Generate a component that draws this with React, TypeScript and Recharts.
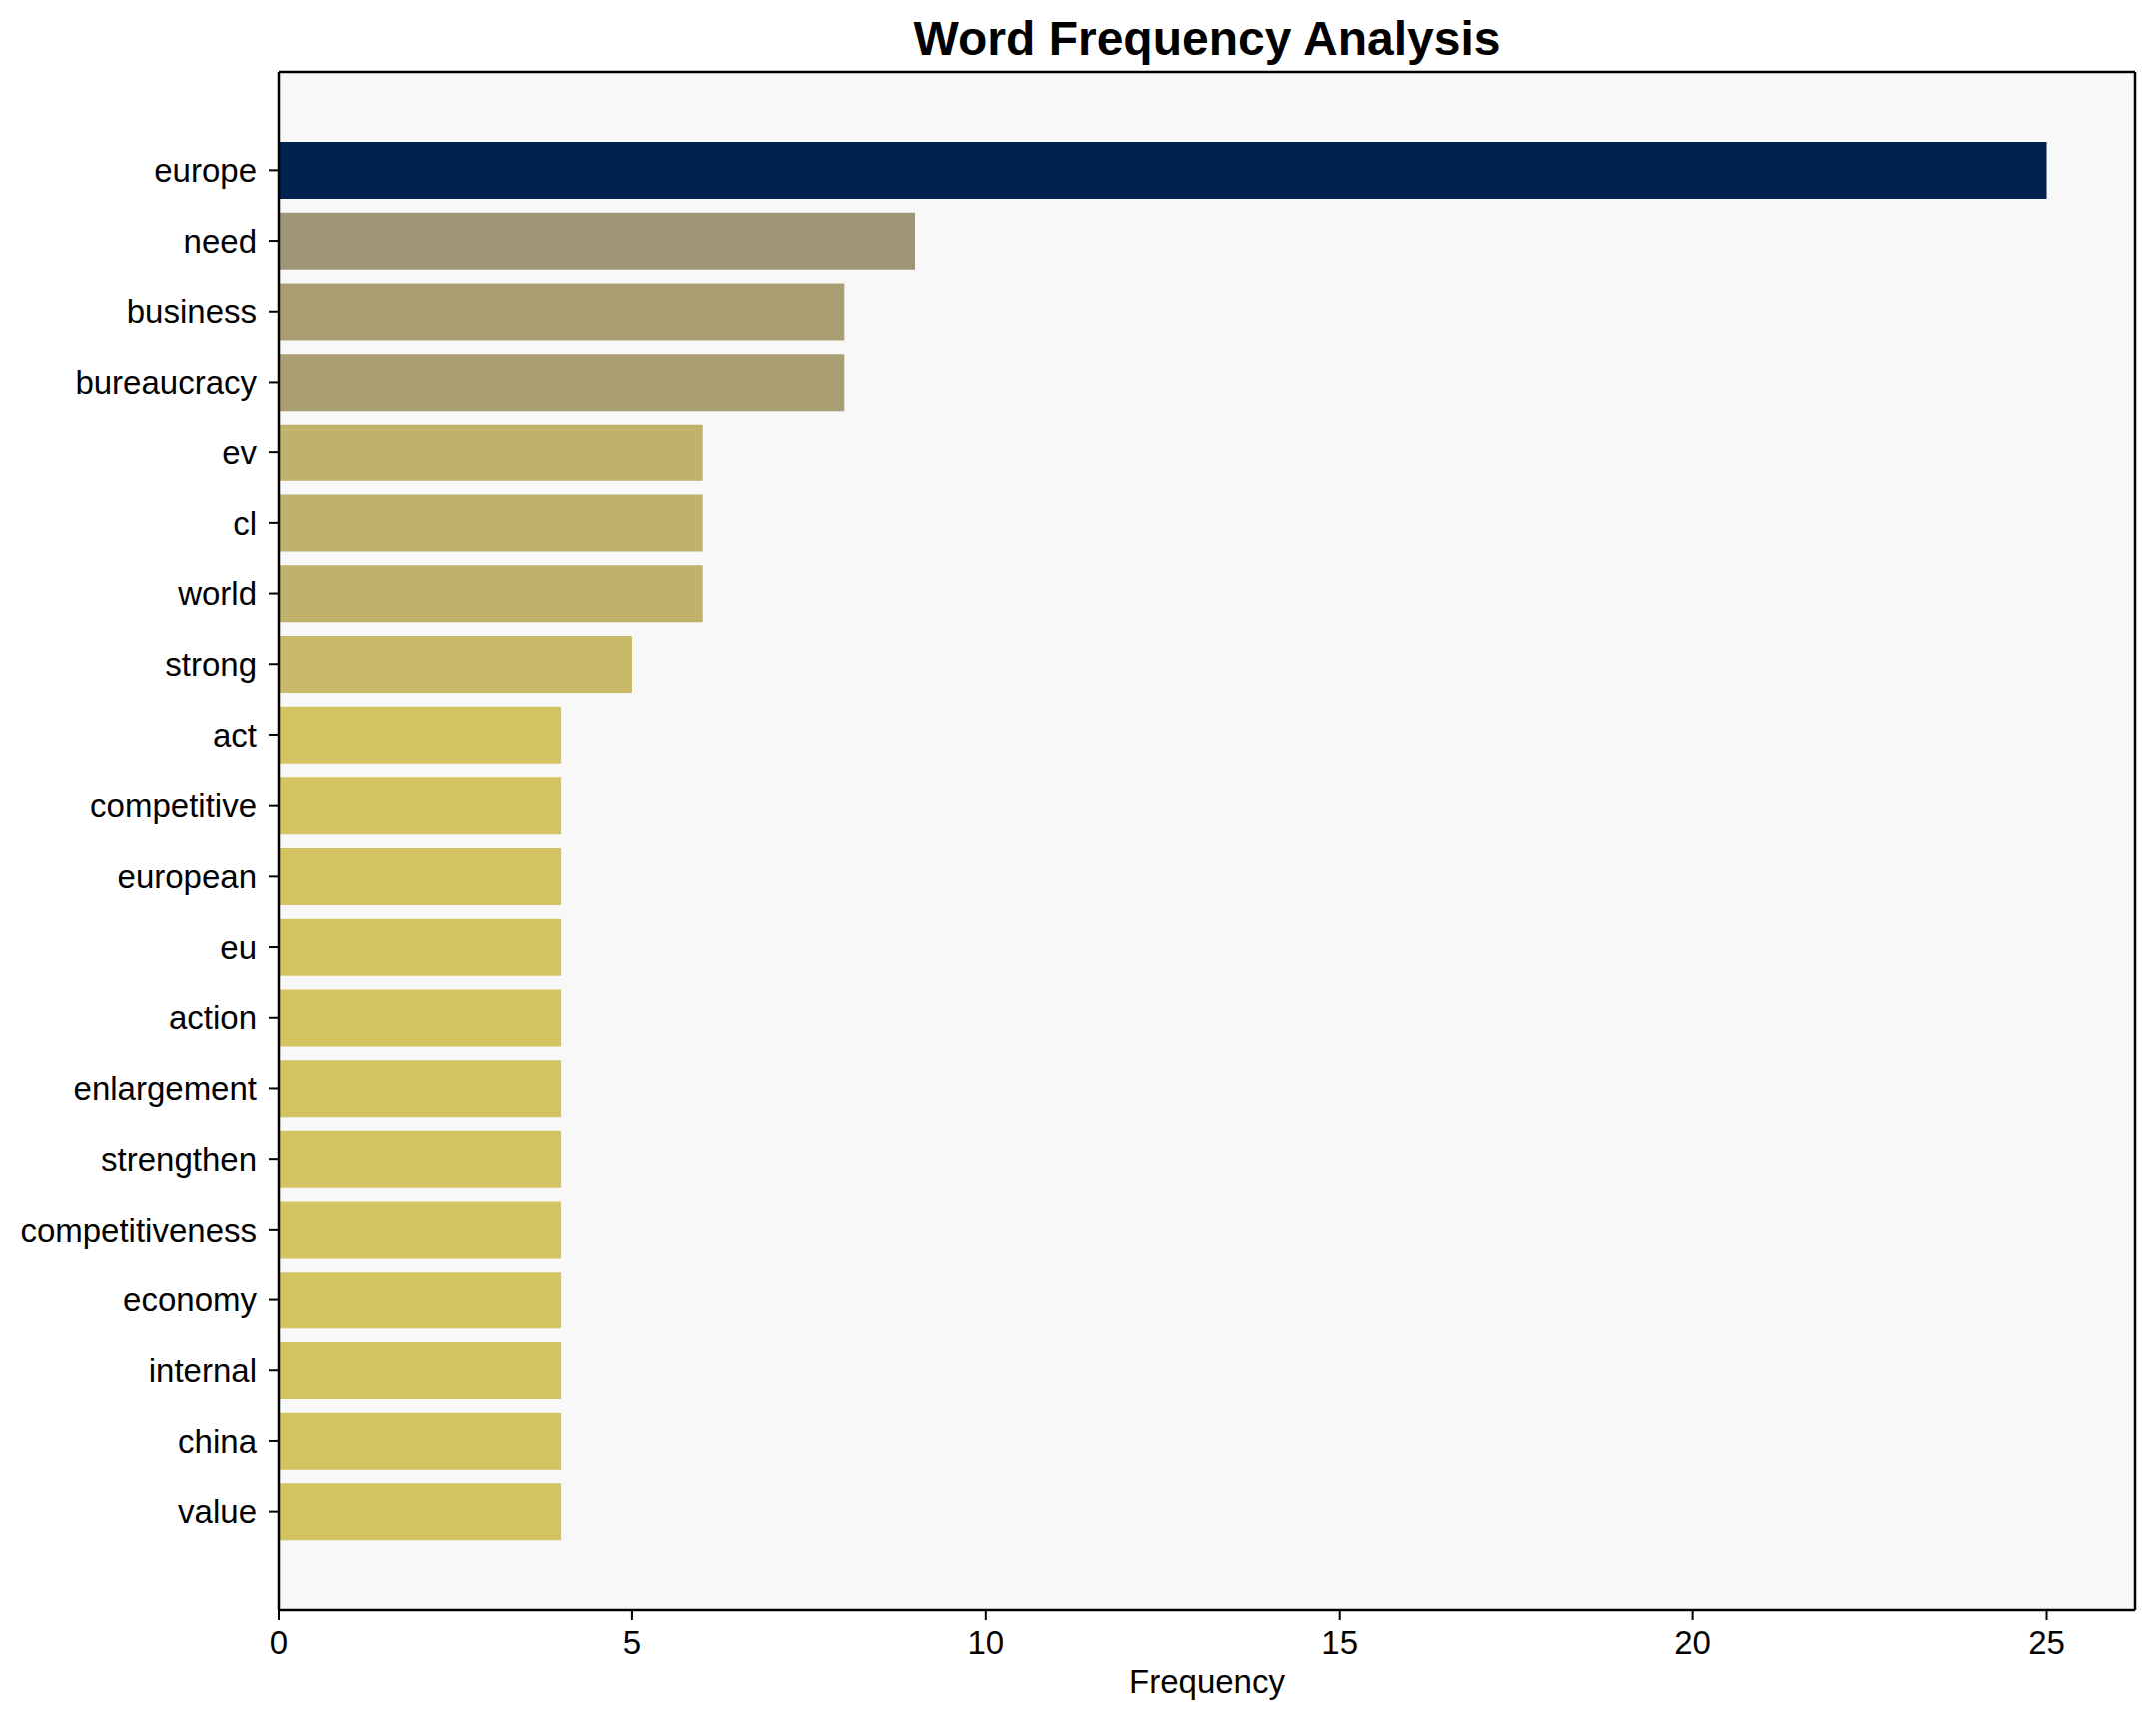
import { Bar, BarChart, CartesianGrid, Cell, XAxis, YAxis } from "recharts";

const words = [
  "europe",
  "need",
  "business",
  "bureaucracy",
  "ev",
  "cl",
  "world",
  "strong",
  "act",
  "competitive",
  "european",
  "eu",
  "action",
  "enlargement",
  "strengthen",
  "competitiveness",
  "economy",
  "internal",
  "china",
  "value",
];

const frequencies = [25, 9, 8, 8, 6, 6, 6, 5, 4, 4, 4, 4, 4, 4, 4, 4, 4, 4, 4, 4];

const xTicks = [0, 5, 10, 15, 20, 25];

// colour by frequency (reversed cividis-like ramp)
const palette: Record<number, string> = {
  25: "#00224e",
  9: "#9f9676",
  8: "#aa9f72",
  6: "#c0b16b",
  5: "#c8b968",
  4: "#d4c361",
};

const FONT = '"Liberation Sans", Arial, Helvetica, sans-serif';

export default function App() {
  const rows = words.map((w, i) => ({ word: w, value: frequencies[i] }));

  return (
    <div
      style={{
        position: "absolute",
        left: 0,
        top: 0,
        width: 2158,
        height: 1722,
        background: "#ffffff",
        fontFamily: FONT,
      }}
    >
      <svg
        width={2158}
        height={72}
        style={{ position: "absolute", left: 0, top: 0 }}
      >
        <text
          x={1208}
          y={55}
          textAnchor="middle"
          fontFamily={FONT}
          fontWeight="bold"
          fontSize={48}
          fill="#000"
        >
          Word Frequency Analysis
        </text>
      </svg>
      <div style={{ position: "absolute", left: 0, top: 0 }}>
        <BarChart
          width={2158}
          height={1722}
          data={rows}
          layout="vertical"
          margin={{ top: 72, right: 21, bottom: 0, left: 9 }}
          barCategoryGap="10%"
        >
          {/* top and right spines of the matplotlib-style frame */}
          <CartesianGrid
            fill="#f8f8f8"
            stroke="#000"
            strokeWidth={2.5}
            horizontalCoordinatesGenerator={({ offset }: any) => [offset.top]}
            verticalCoordinatesGenerator={({ offset }: any) => [
              offset.left + offset.width,
            ]}
          />
          <XAxis
            type="number"
            dataKey="value"
            domain={[0, 26.25]}
            ticks={xTicks}
            allowDataOverflow
            height={110}
            tickSize={10}
            tickMargin={11}
            axisLine={{ stroke: "#000", strokeWidth: 2.5 }}
            tickLine={{ stroke: "#000", strokeWidth: 2 }}
            tick={{ fill: "#000", fontSize: 33, fontFamily: FONT }}
            label={{
              value: "Frequency",
              position: "insideBottom",
              offset: 27,
              fill: "#000",
              fontSize: 33,
              fontFamily: FONT,
            }}
          />
          <YAxis
            type="category"
            dataKey="word"
            width={270}
            padding={{ top: 63, bottom: 63 }}
            tickSize={10}
            tickMargin={12}
            interval={0}
            axisLine={{ stroke: "#000", strokeWidth: 2.5 }}
            tickLine={{ stroke: "#000", strokeWidth: 2 }}
            tick={{ fill: "#000", fontSize: 33, fontFamily: FONT }}
          />
          <Bar dataKey="value" isAnimationActive={false}>
            {rows.map((r) => (
              <Cell key={r.word} fill={palette[r.value]} />
            ))}
          </Bar>
        </BarChart>
      </div>
    </div>
  );
}
